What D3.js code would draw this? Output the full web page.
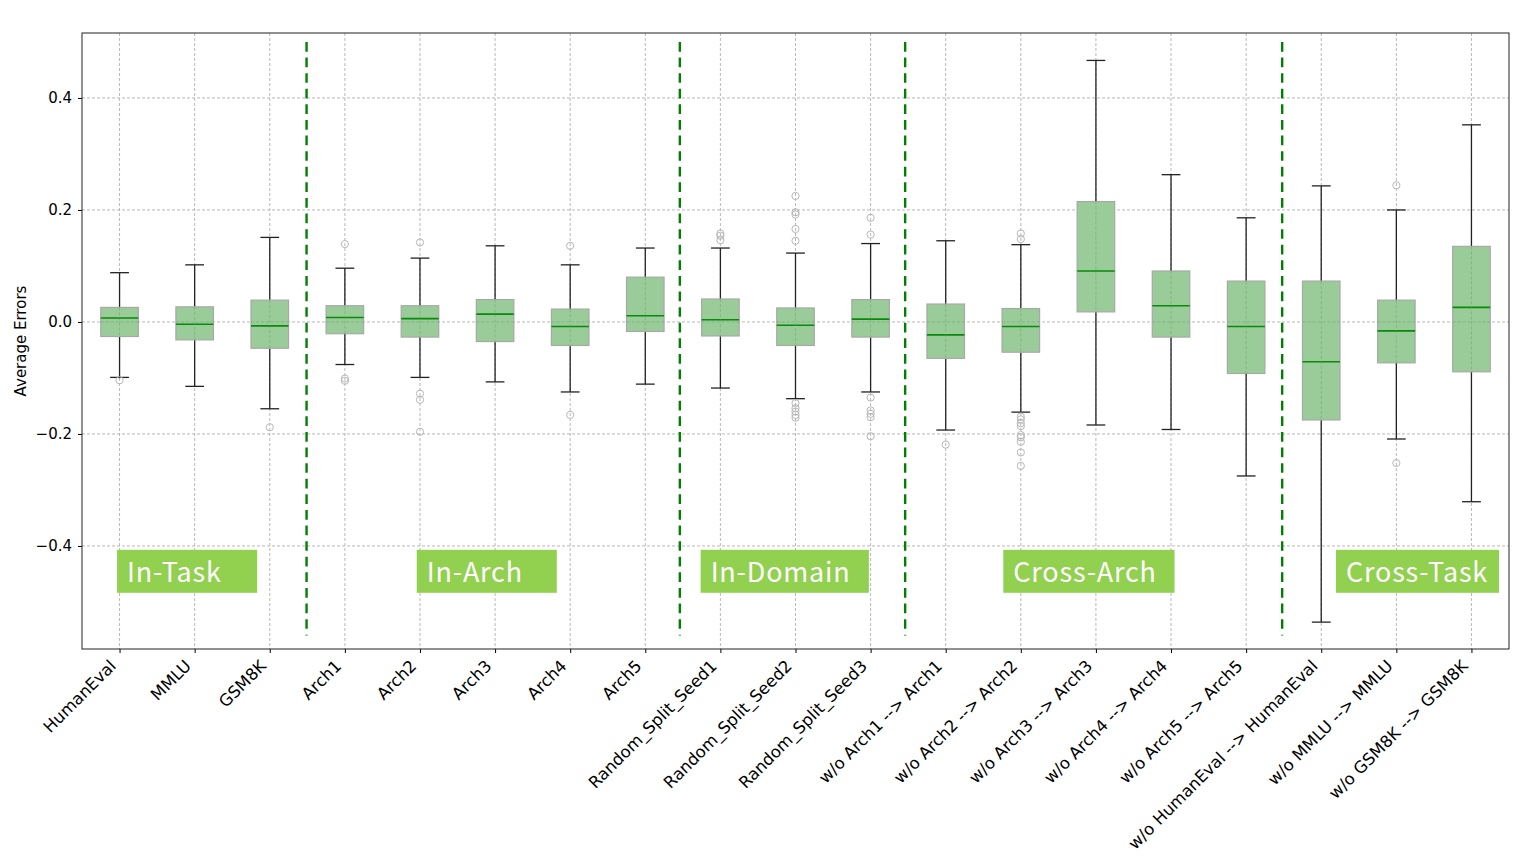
<!DOCTYPE html>
<html>
<head>
<meta charset="utf-8">
<script src="https://cdn.jsdelivr.net/npm/d3@7"></script>
<style>
  body { margin: 0; background: #fff; }
  svg { display: block; }
  .tick text { font-family: "DejaVu Sans", sans-serif; }
</style>
</head>
<body>
<svg id="chart" width="1522" height="856"></svg>
<script>
// categories along the x axis
const categories = [
    "HumanEval", "MMLU", "GSM8K",
    "Arch1", "Arch2", "Arch3", "Arch4", "Arch5",
    "Random_Split_Seed1", "Random_Split_Seed2", "Random_Split_Seed3",
    "w/o Arch1 --> Arch1", "w/o Arch2 --> Arch2", "w/o Arch3 --> Arch3",
    "w/o Arch4 --> Arch4", "w/o Arch5 --> Arch5",
    "w/o HumanEval --> HumanEval", "w/o MMLU --> MMLU", "w/o GSM8K --> GSM8K"
];

// box statistics
const whiskerLow = [-0.099, -0.115, -0.155, -0.076, -0.099, -0.107, -0.125, -0.111,
    -0.118, -0.137, -0.125, -0.193, -0.161, -0.184, -0.192, -0.275, -0.536, -0.209, -0.321];
const q1 = [-0.026, -0.032, -0.047, -0.021, -0.027, -0.035, -0.042, -0.017,
    -0.025, -0.042, -0.027, -0.065, -0.054, 0.018, -0.027, -0.092, -0.175, -0.073, -0.089];
const median = [0.007, -0.004, -0.007, 0.008, 0.006, 0.014, -0.008, 0.011,
    0.004, -0.006, 0.005, -0.023, -0.008, 0.091, 0.029, -0.008, -0.071, -0.016, 0.026];
const q3 = [0.026, 0.027, 0.039, 0.029, 0.029, 0.040, 0.023, 0.080,
    0.041, 0.025, 0.040, 0.032, 0.024, 0.215, 0.091, 0.073, 0.073, 0.039, 0.135];
const whiskerHigh = [0.088, 0.102, 0.151, 0.096, 0.114, 0.136, 0.102, 0.132,
    0.132, 0.123, 0.140, 0.145, 0.138, 0.467, 0.263, 0.186, 0.243, 0.200, 0.352];
const outliers = [
    [-0.104], [], [-0.188],
    [0.139, -0.101, -0.105],
    [0.142, -0.128, -0.139, -0.196],
    [],
    [0.136, -0.166],
    [],
    [0.158, 0.154, 0.146],
    [0.225, 0.196, 0.192, 0.166, 0.145, -0.145, -0.154, -0.160, -0.166, -0.171],
    [0.186, 0.156, -0.135, -0.158, -0.164, -0.170, -0.204],
    [-0.219],
    [0.158, 0.148, -0.169, -0.174, -0.181, -0.186, -0.202, -0.206, -0.214, -0.233, -0.257],
    [], [], [], [],
    [0.244, -0.252],
    []
];

const yTicks = [-0.4, -0.2, 0.0, 0.2, 0.4];

// group separators (between categories) and group labels
const separators = [3.49, 8.46, 11.46, 16.48];
const groupNames = ["In-Task", "In-Arch", "In-Domain", "Cross-Arch", "Cross-Task"];
const groupX = [1.1, 5.09, 8.87, 12.9, 17.33];
const groupW = [1.865, 1.865, 2.24, 2.28, 2.17];
const groupY = -0.464;

const data = categories.map((c, i) => ({
    name: c, pos: i + 1,
    lo: whiskerLow[i], q1: q1[i], med: median[i], q3: q3[i], hi: whiskerHigh[i],
    out: outliers[i]
}));

const plotL = 82, plotR = 1509, plotT = 33, plotB = 649;
const svg = d3.select("#chart");

const x = d3.scaleLinear().domain([0.5, categories.length + 0.5]).range([plotL, plotR]);
const y = d3.scaleLinear().domain([-0.584, 0.516]).range([plotB, plotT]);
const boxW = x(1.25) - x(0.75);
const capW = boxW / 2;

// grid
const grid = svg.append("g");
grid.selectAll(".gx").data(data).join("line")
    .attr("x1", d => x(d.pos)).attr("x2", d => x(d.pos))
    .attr("y1", plotT).attr("y2", plotB)
    .attr("stroke", "#b0b0b0").attr("stroke-width", 0.9).attr("stroke-dasharray", "3,2");
grid.selectAll(".gy").data(yTicks).join("line")
    .attr("x1", plotL).attr("x2", plotR)
    .attr("y1", d => y(d)).attr("y2", d => y(d))
    .attr("stroke", "#b0b0b0").attr("stroke-width", 0.9).attr("stroke-dasharray", "3,2");

// boxes
const boxes = svg.append("g").selectAll("g").data(data).join("g");

boxes.append("line")
    .attr("x1", d => x(d.pos)).attr("x2", d => x(d.pos))
    .attr("y1", d => y(d.hi)).attr("y2", d => y(d.q3))
    .attr("stroke", "#222").attr("stroke-width", 1.3);
boxes.append("line")
    .attr("x1", d => x(d.pos)).attr("x2", d => x(d.pos))
    .attr("y1", d => y(d.q1)).attr("y2", d => y(d.lo))
    .attr("stroke", "#222").attr("stroke-width", 1.3);
boxes.append("line")
    .attr("x1", d => x(d.pos) - capW / 2).attr("x2", d => x(d.pos) + capW / 2)
    .attr("y1", d => y(d.hi)).attr("y2", d => y(d.hi))
    .attr("stroke", "#222").attr("stroke-width", 1.3);
boxes.append("line")
    .attr("x1", d => x(d.pos) - capW / 2).attr("x2", d => x(d.pos) + capW / 2)
    .attr("y1", d => y(d.lo)).attr("y2", d => y(d.lo))
    .attr("stroke", "#222").attr("stroke-width", 1.3);

boxes.append("rect")
    .attr("x", d => x(d.pos) - boxW / 2)
    .attr("y", d => y(d.q3))
    .attr("width", boxW)
    .attr("height", d => y(d.q1) - y(d.q3))
    .attr("fill", "#99cc99")
    .attr("stroke", "#a8a8a8")
    .attr("stroke-width", 1.2);

// grid shows through the boxes in the reference
svg.append("g").selectAll("line").data(data).join("line")
    .attr("x1", d => x(d.pos)).attr("x2", d => x(d.pos))
    .attr("y1", d => y(d.q3)).attr("y2", d => y(d.q1))
    .attr("stroke", "#6a9a6a").attr("stroke-opacity", 0.5)
    .attr("stroke-width", 0.9).attr("stroke-dasharray", "3,2");
svg.append("g").selectAll("line").data(data.filter(d => d.q1 < 0 && d.q3 > 0)).join("line")
    .attr("x1", d => x(d.pos) - boxW / 2).attr("x2", d => x(d.pos) + boxW / 2)
    .attr("y1", y(0)).attr("y2", y(0))
    .attr("stroke", "#6a9a6a").attr("stroke-opacity", 0.5)
    .attr("stroke-width", 0.9).attr("stroke-dasharray", "3,2");

boxes.append("line")
    .attr("x1", d => x(d.pos) - boxW / 2).attr("x2", d => x(d.pos) + boxW / 2)
    .attr("y1", d => y(d.med)).attr("y2", d => y(d.med))
    .attr("stroke", "#0a8a0a").attr("stroke-width", 1.6);

boxes.selectAll("circle")
    .data(d => d.out.map(v => ({ pos: d.pos, v })))
    .join("circle")
    .attr("cx", d => x(d.pos)).attr("cy", d => y(d.v))
    .attr("r", 3.6)
    .attr("fill", "none").attr("stroke", "#b8b8b8").attr("stroke-width", 1);

// group separators
svg.append("g").selectAll("line").data(separators).join("line")
    .attr("x1", d => x(d)).attr("x2", d => x(d))
    .attr("y1", y(0.5)).attr("y2", y(-0.56))
    .attr("stroke", "#008000").attr("stroke-width", 2.4).attr("stroke-dasharray", "9.7,5.9");

// group labels
const labels = svg.append("g").selectAll("g").data(groupNames).join("g")
    .attr("transform", (d, i) => `translate(${x(groupX[i])},${y(groupY)})`);
labels.append("rect")
    .attr("x", -10).attr("y", -32)
    .attr("width", (d, i) => x(groupW[i]) - x(0))
    .attr("height", 43)
    .attr("fill", "#92d050");
labels.append("text")
    .attr("x", 0).attr("y", 0)
    .attr("fill", "#fff")
    .attr("font-family", "'Noto Sans CJK SC', 'Noto Sans', sans-serif")
    .attr("font-size", "27px")
    .attr("letter-spacing", "0.8px")
    .text(d => d);

// axes
const yAxis = d3.axisLeft(y).tickValues(yTicks).tickSize(4).tickPadding(6)
    .tickFormat(d => d3.format(".1f")(d).replace("-", "\u2212"));
svg.append("g").attr("transform", `translate(${plotL},0)`).call(yAxis)
    .call(g => g.select(".domain").remove())
    .call(g => g.selectAll("text").attr("font-size", "15px").attr("fill", "#000"));

const xAxis = d3.axisBottom(x).tickValues(data.map(d => d.pos)).tickSize(4)
    .tickFormat((d, i) => categories[i]);
svg.append("g").attr("transform", `translate(0,${plotB})`).call(xAxis)
    .call(g => g.select(".domain").remove())
    .call(g => g.selectAll("text")
        .attr("font-size", "16.5px").attr("fill", "#000")
        .attr("text-anchor", "end")
        .attr("y", 0).attr("dy", 0)
        .attr("transform", "translate(-3,18) rotate(-45)"));

svg.append("rect")
    .attr("x", plotL).attr("y", plotT)
    .attr("width", plotR - plotL).attr("height", plotB - plotT)
    .attr("fill", "none").attr("stroke", "#222").attr("stroke-width", 1);

svg.append("text")
    .attr("transform", `translate(26,${(plotT + plotB) / 2}) rotate(-90)`)
    .attr("text-anchor", "middle")
    .attr("font-family", "'DejaVu Sans', sans-serif")
    .attr("font-size", "15px")
    .text("Average Errors");
</script>
</body>
</html>
